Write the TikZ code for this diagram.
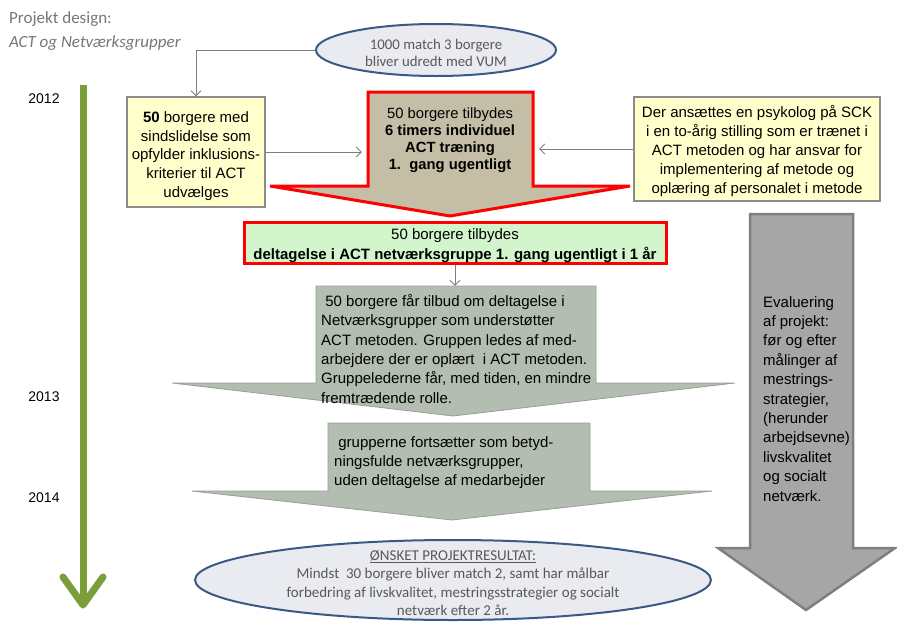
\documentclass[tikz,border=0pt]{standalone}
\usepackage{fontspec}
\setmainfont{Liberation Sans}
\newfontfamily\calfont{Carlito}
\usetikzlibrary{arrows.meta,calc,shapes.geometric}
\definecolor{ybox}{HTML}{FFFFCC}
\definecolor{yborder}{HTML}{8C8C8C}
\definecolor{tan}{HTML}{C4BEA6}
\definecolor{redb}{HTML}{FF0000}
\definecolor{greenfill}{HTML}{D2F5CB}
\definecolor{grayfill}{HTML}{B4BDB1}
\definecolor{grayedge}{HTML}{98A095}
\definecolor{bigfill}{HTML}{A6A6A6}
\definecolor{bigedge}{HTML}{7F7F7F}
\definecolor{ellfill}{HTML}{E9EBF0}
\definecolor{elledge}{HTML}{3A5A85}
\definecolor{ellText}{HTML}{595959}
\definecolor{titleText}{HTML}{767676}
\definecolor{tline}{HTML}{7A9F3A}
\definecolor{connc}{HTML}{7F7F7F}
\newcommand{\fsz}[2]{\fontsize{#1}{#2}\selectfont}
\begin{document}
\begin{tikzpicture}[x=1pt,y=-1pt,
  yellowbox/.style={draw=yborder,line width=1.2pt,fill=ybox,inner sep=0pt},
  ytext/.style={align=center,inner sep=0pt,font=\fsz{15}{18.8}},
  ellnode/.style={ellipse,draw=elledge,line width=2pt,fill=ellfill,inner sep=0pt},
  elltext/.style={align=center,text=ellText,font=\calfont\fsz{14.8}{17},inner sep=0pt},
  conn/.style={draw=connc,line width=0.9pt,-{Straight Barb[length=5pt,width=10pt]}},
  calltext/.style={align=left,anchor=north west,inner sep=0pt,font=\fsz{15}{19.4}},
  year/.style={font=\fsz{14}{16},inner sep=0pt}
  ]
\useasboundingbox (0,0) rectangle (897,627);

% title
\node[anchor=north west,inner sep=0pt,align=left,text=titleText,font=\calfont\fsz{17}{24}] (title) at (9,11) {Projekt design:\\\textit{ACT og Netværksgrupper}};

% timeline
\coordinate (tltop) at (83,85);
\coordinate (tlbot) at (83,605);
\draw[tline,line width=7pt] (tltop) -- (tlbot);
\draw[tline,line width=7pt,line join=round,line cap=round] ($(tlbot)+(-20,-28)$) -- (tlbot) -- ($(tlbot)+(20,-28)$);
\node[year] (y2012) at (44,99) {2012};
\node[year] (y2013) at (44,397) {2013};
\node[year] (y2014) at (44,498) {2014};

% top ellipse
\node[ellnode,minimum width=240pt,minimum height=52pt] (vum) at (436,50) {};
\node[elltext] (vumtxt) at (436,53) {1000 match 3 borgere\\bliver udredt med VUM};

% left yellow box
\node[yellowbox,minimum width=138pt,minimum height=110pt] (sel) at (196,152) {};
\node[ytext] (seltxt) at (196,156)
 {\textbf{50} borgere med\\sindslidelse som\\opfylder inklusions-\\kriterier til ACT\\udvælges};

% right yellow box
\node[yellowbox,minimum width=246pt,minimum height=104pt] (psy) at (757,149) {};
\node[ytext] (psytxt) at (757,151)
 {Der ansættes en psykolog på SCK\\i en to-årig stilling som er trænet i\\ACT metoden og har ansvar for\\implementering af metode og\\oplæring af personalet i metode};

% red callout
\filldraw[fill=tan,draw=redb,line width=3pt,line join=miter]
  (368,92) -- (533,92) -- (533,186) -- (630,186) -- (450,216) -- (270,186) -- (368,186) -- cycle;
\node[minimum width=165pt,minimum height=94pt,inner sep=0pt] (act) at (450.5,139) {};
\node[align=center,inner sep=0pt,font=\fsz{14.8}{17}] (acttxt) at (450,140)
 {50 borgere tilbydes\\\textbf{6 timers individuel}\\\textbf{ACT træning}\\\textbf{1.\ \ gang ugentligt}};

% green box
\node[draw=redb,line width=3pt,fill=greenfill,minimum width=422pt,minimum height=41pt,inner sep=0pt] (green) at (455,242.5) {};
\node[align=center,inner sep=0pt,font=\fsz{15}{20}] (greentxt) at (455,245.5)
 {50 borgere tilbydes\\\textbf{deltagelse i ACT netværksgruppe 1. gang ugentligt i 1 år}};

% gray callout 1
\filldraw[fill=grayfill,draw=grayedge,line width=0.8pt]
  (316,286) -- (596,286) -- (596,383) -- (735,383) -- (453,416) -- (172,383) -- (316,383) -- cycle;
\node[minimum width=280pt,minimum height=97pt,inner sep=0pt] (grp1) at (456,334.5) {};
\node[calltext] (grp1txt) at (321,294)
 {\ 50 borgere får tilbud om deltagelse i\\Netværksgrupper som understøtter\\ACT metoden. Gruppen ledes af med-\\arbejdere der er oplært\ \ i ACT metoden.\\Gruppelederne får, med tiden, en mindre\\fremtrædende rolle.};

% gray callout 2
\filldraw[fill=grayfill,draw=grayedge,line width=0.8pt]
  (328,423) -- (590,423) -- (590,491) -- (712,491) -- (452,520) -- (192,491) -- (328,491) -- cycle;
\node[minimum width=262pt,minimum height=68pt,inner sep=0pt] (grp2) at (459,457) {};
\node[calltext] (grp2txt) at (334,436)
 {\ grupperne fortsætter som betyd-\\ningsfulde netværksgrupper,\\uden deltagelse af medarbejder};

% right big arrow
\filldraw[fill=bigfill,draw=bigedge,line width=2.5pt,line join=miter]
  (750,214) -- (853,214) -- (853,548) -- (895,548) -- (806,610) -- (718,548) -- (750,548) -- cycle;
\node[calltext] (evaltxt) at (763,296)
 {Evaluering\\af projekt:\\før og efter\\målinger af\\mestrings-\\strategier,\\(herunder\\arbejdsevne)\\livskvalitet\\og socialt\\netværk.};

% bottom ellipse
\node[ellnode,minimum width=516pt,minimum height=80pt] (res) at (453,580) {};
\node[elltext,font=\calfont\fsz{15}{18.5}] (restxt) at (453,583)
 {\underline{ØNSKET PROJEKTRESULTAT:}\\Mindst\ \ 30 borgere bliver match 2, samt har målbar\\forbedring af livskvalitet, mestringsstrategier og socialt\\netværk efter 2 år.};

% connectors
\draw[conn] (vum.west) -| (sel.north);
\draw[conn,shorten >=6pt] (sel.east) -- (sel.east -| act.west);
\draw[conn,shorten >=6pt] (psy.west) -- (psy.west -| act.east);
\draw[conn] (green.south) -- (green.south |- grp1.north);
\end{tikzpicture}
\end{document}
